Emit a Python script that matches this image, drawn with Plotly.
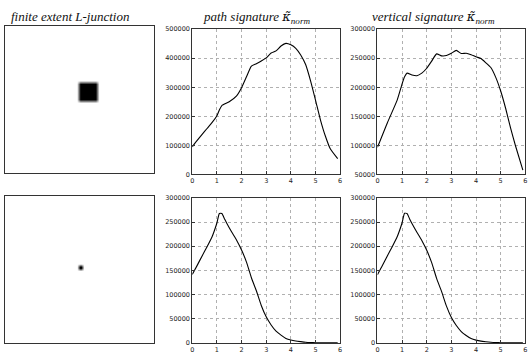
import numpy as np
import plotly.graph_objects as go

# ---- data ----
x_top = [0.0, 0.2, 0.4, 0.6, 0.8, 1.0, 1.1, 1.2, 1.5, 1.8, 2.0, 2.2, 2.4, 2.6, 2.8, 3.0,
         3.2, 3.4, 3.6, 3.8, 4.0, 4.2, 4.4, 4.6, 4.8, 5.0, 5.2, 5.4, 5.6, 5.9]
path_top = [95000, 117000, 138000, 158000, 178000, 202000, 222000, 237000, 250000, 270000,
            298000, 336000, 373000, 381000, 390000, 401000, 418000, 425000, 442000, 451000,
            446000, 434000, 411000, 378000, 322000, 256000, 188000, 132000, 88000, 54000]

x_vt = [0.0, 0.4, 0.8, 1.0, 1.1, 1.2, 1.4, 1.6, 1.8, 2.0, 2.2, 2.4, 2.6, 2.8, 3.0, 3.2,
        3.4, 3.6, 3.8, 4.0, 4.2, 4.4, 4.6, 4.8, 5.0, 5.2, 5.4, 5.6, 5.9]
vert_top = [96500, 138600, 177800, 205800, 218000, 224300, 221000, 219800, 224300, 232700,
            245000, 257400, 254000, 254600, 258500, 263500, 258000, 258500, 256000, 252300,
            249500, 242000, 233900, 217000, 193500, 163800, 130000, 99300, 57300]

x_bot = [0.0, 0.2, 0.4, 0.6, 0.8, 0.9, 1.0, 1.1, 1.2, 1.3, 1.4, 1.6, 1.8, 2.0, 2.2, 2.4,
         2.6, 2.8, 3.0, 3.2, 3.4, 3.6, 3.8, 4.0, 4.2, 4.4, 4.6, 4.8, 5.0, 5.2, 5.4, 5.6, 5.9]
path_bot = [141600, 160400, 180000, 198900, 219100, 232600, 248000, 267600, 267600, 257500,
            247400, 229200, 212400, 192100, 167200, 134800, 107900, 77500, 53900, 37100,
            24300, 16200, 9400, 6000, 4000, 2700, 1500, 800, 400, 200, 100, 50, 20]
vert_bot = [141000, 160000, 180000, 199000, 219500, 233000, 248500, 268000, 267500, 257000,
            247000, 229000, 212000, 191500, 166000, 133500, 106500, 76000, 52500, 36000,
            23500, 15500, 9000, 5800, 3800, 2500, 1400, 750, 380, 190, 90, 45, 20]

# image panels: square centre (x, y from top) and half size, in 0..100 image units
sq_top = dict(cx=56.3, cy=44.7, half=6.3, blur=1.2)
sq_bot = dict(cx=51.3, cy=48.5, half=1.4, blur=1.0)

kap = "<span style='font-family:DejaVu Serif'>κ̃</span><sub>norm</sub>"
titles = ["finite extent L-junction", "path signature " + kap,
          "vertical signature " + kap]

W, H = 532, 357


def img(sq):
    g = np.linspace(0, 100, 150)
    X, Y = np.meshgrid(g, g)
    rx = np.clip((sq["half"] + sq["blur"] - np.abs(X - sq["cx"])) / (2 * sq["blur"]), 0, 1)
    ry = np.clip((sq["half"] + sq["blur"] - np.abs(Y - sq["cy"])) / (2 * sq["blur"]), 0, 1)
    return g, rx * ry


fig = go.Figure()


def dx(a, b):
    return [a / W, b / W]


def dy(top, bot):
    return [1 - bot / H, 1 - top / H]


# image axes
for i, (sq, (t, b)) in enumerate([(sq_top, (23, 173)), (sq_bot, (196, 347))]):
    ax_x = "xaxis" + ("" if i == 0 else str(10 + i))
    ax_y = "yaxis" + ("" if i == 0 else str(10 + i))
    xr = "x" + ("" if i == 0 else str(10 + i))
    yr = "y" + ("" if i == 0 else str(10 + i))
    g, z = img(sq)
    fig.add_trace(go.Heatmap(x=g, y=g, z=z, xaxis=xr, yaxis=yr, showscale=False,
                             colorscale=[[0, "white"], [1, "black"]], zmin=0, zmax=1,
                             hoverinfo="skip"))
    fig.layout[ax_x] = dict(domain=dx(3, 153), range=[0, 100], showticklabels=False,
                            showgrid=False, zeroline=False, showline=True, mirror=True,
                            linecolor="#333", linewidth=1, ticks="", anchor=yr)
    fig.layout[ax_y] = dict(domain=dy(t, b), range=[100, 0], showticklabels=False,
                            showgrid=False, zeroline=False, showline=True, mirror=True,
                            linecolor="#333", linewidth=1, ticks="", anchor=xr)

# line plots
plots = [
    (x_top, path_top, (191.7, 340.7), (25.7, 174.3), [0, 500000], 100000),
    (x_vt, vert_top, (378.3, 527.3), (25.7, 174.3), [50000, 300000], 50000),
    (x_bot, path_bot, (191.7, 340.7), (198.3, 346.7), [0, 300000], 50000),
    (x_bot, vert_bot, (378.3, 527.3), (198.3, 346.7), [0, 300000], 50000),
]
tickfont = dict(family="DejaVu Sans", size=6.5, color="#222")
for k, (xs, ys, (l, r), (t, b), yrng, dt) in enumerate(plots):
    idx = k + 2
    xr, yr = "x%d" % idx, "y%d" % idx
    fig.add_trace(go.Scatter(x=xs, y=ys, mode="lines", line=dict(color="black", width=1.1,
                             shape="spline", smoothing=0.5), xaxis=xr, yaxis=yr,
                             showlegend=False))
    common = dict(showline=True, mirror=True, linecolor="#333", linewidth=1, zeroline=False,
                  showgrid=True, gridcolor="#b0b0b0", griddash="dot", gridwidth=0.8,
                  ticks="inside", ticklen=3, tickcolor="#333", tickfont=tickfont)
    fig.layout["xaxis%d" % idx] = dict(domain=dx(l, r), range=[0, 6], dtick=1, tick0=0,
                                       anchor=yr, ticklabelstandoff=0, **common)
    fig.layout["yaxis%d" % idx] = dict(domain=dy(t, b), range=yrng, dtick=dt, tick0=0,
                                       tickformat="d", anchor=xr, ticklabelstandoff=0,
                                       **common)

# titles (left edges as in the reference)
for txt, xl in zip(titles, [7, 201, 371]):
    fig.add_annotation(text=txt, x=xl / W, y=1 - 3 / H, xref="paper", yref="paper",
                       showarrow=False, xanchor="left", yanchor="top",
                       font=dict(family="Liberation Serif", size=13, color="#111",
                                 style="italic"))

fig.update_layout(width=W, height=H, margin=dict(l=0, r=0, t=0, b=0),
                  paper_bgcolor="white", plot_bgcolor="white", showlegend=False)
fig.write_html("out.html")
